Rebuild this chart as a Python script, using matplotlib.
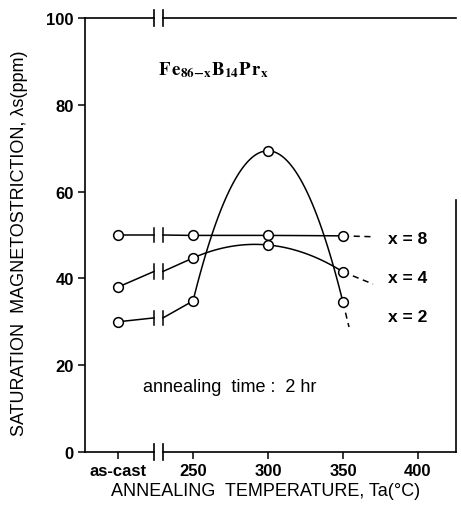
import numpy as np
import matplotlib.pyplot as plt

plt.rcParams['font.family'] = ['Liberation Sans', 'DejaVu Sans']
plt.rcParams['mathtext.fontset'] = 'stix'

# as-cast is put at x=200 on the temperature axis
temps = [200, 250, 300, 350]
tick_pos = [200, 250, 300, 350, 400]
tick_lab = ['as-cast', '250', '300', '350', '400']

lam_x8 = [50.0, 49.9, 49.9, 49.8]
lam_x4 = [38.0, 44.7, 47.7, 41.5]
lam_x2 = [30.0, 34.8, 69.4, 34.5]

# value of each curve where it crosses the axis break
brk_x8, brk_x4, brk_x2 = 50.0, 41.6, 30.9
# end of the dashed tails after 350 C
end_x8 = (370, 49.6)
end_x4 = (370, 38.7)
end_x2 = (354, 28.8)

brk_l, brk_r = 224, 230

fig = plt.figure(figsize=(4.61, 5.10), dpi=100)
ax = fig.add_axes([0.1844, 0.1118, 0.8046, 0.8509])
ax.set_xlim(178, 425.3)
ax.set_ylim(0, 100)

lw = 1.1
for vals, brk, end in [(lam_x8, brk_x8, end_x8), (lam_x4, brk_x4, end_x4), (lam_x2, brk_x2, end_x2)]:
    # as-cast -> break, break -> 250
    ax.plot([temps[0], brk_l], [vals[0], brk], 'k-', lw=lw)
    ax.plot([brk_r, temps[1]], [brk, vals[1]], 'k-', lw=lw)
    for xb in (brk_l, brk_r):
        ax.plot([xb, xb], [brk - 1.7, brk + 1.7], 'k-', lw=lw)
    # smooth curve through 250..350
    c = np.polyfit(temps[1:], vals[1:], 2)
    xs = np.linspace(temps[1], temps[3], 80)
    ax.plot(xs, np.polyval(c, xs), 'k-', lw=lw)
    ax.plot([temps[3], end[0]], [vals[3], end[1]], 'k--', lw=lw, dashes=(4, 3))
    ax.plot(temps, vals, 'o', ms=7, mfc='white', mec='black', mew=1.1, zorder=5)

# spines with breaks drawn by hand
for s in ['top', 'bottom', 'right']:
    ax.spines[s].set_visible(False)
ax.spines['left'].set_linewidth(1.2)
for yv in (0, 100):
    ax.plot([178, brk_l], [yv, yv], 'k-', lw=1.2, clip_on=False)
    ax.plot([brk_r, 425.3], [yv, yv], 'k-', lw=1.2, clip_on=False)
    for xb in (brk_l, brk_r):
        ax.plot([xb, xb], [yv - 1.8, yv + 1.8], 'k-', lw=1.2, clip_on=False)
ax.plot([425.3, 425.3], [0, 58], 'k-', lw=1.2, clip_on=False)

ax.set_xticks(tick_pos)
ax.set_xticklabels(tick_lab)
ax.set_yticks([0, 20, 40, 60, 80, 100])
ax.tick_params(direction='out', length=5, width=1.1, labelsize=12, pad=3)
for lab in ax.get_xticklabels() + ax.get_yticklabels():
    lab.set_fontweight('bold')

ax.text(226.7, 87.1, r'$\mathbf{F\,e}_{\mathbf{86\!-\!x}}\mathbf{B}_{\mathbf{14}}\mathbf{P\,r}_{\mathbf{x}}$',
        fontsize=13.5, va='baseline', ha='left')
ax.text(216.7, 15.2, 'annealing  time :  2 hr', fontsize=13, va='center', ha='left')
ax.text(380, 49.1, 'x = 8', fontsize=12.5, fontweight='bold', va='center', ha='left')
ax.text(380, 40.3, 'x = 4', fontsize=12.5, fontweight='bold', va='center', ha='left')
ax.text(380, 31.3, 'x = 2', fontsize=12.5, fontweight='bold', va='center', ha='left')

fig.text(20 / 461, 1 - 243 / 510, 'SATURATION  MAGNETOSTRICTION, \u03bbs(ppm)',
         rotation=90, fontsize=13, ha='center', va='center')
fig.text(266 / 461, 1 - 492 / 510, 'ANNEALING  TEMPERATURE, Ta(\u00b0C)',
         fontsize=13, ha='center', va='center')

fig.savefig('out.png', dpi=100)
